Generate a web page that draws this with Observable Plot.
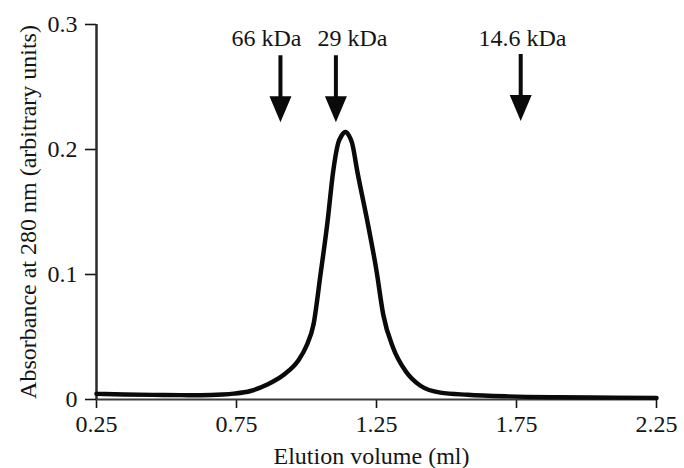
<!DOCTYPE html>
<html>
<head>
<meta charset="utf-8">
<script src="https://cdn.jsdelivr.net/npm/d3@7"></script>
<script src="https://cdn.jsdelivr.net/npm/@observablehq/plot@0.6"></script>
<style>
  html, body { margin: 0; padding: 0; background: #fff; }
  #chart { width: 684px; height: 468px; }
</style>
</head>
<body>
<div id="chart"></div>
<script>
// Elution profile (ml, absorbance at 280 nm)
const volume = [0.25, 0.35, 0.45, 0.55, 0.62, 0.70, 0.74, 0.80, 0.86, 0.92, 0.97, 1.00, 1.025, 1.05, 1.075, 1.095, 1.113, 1.125, 1.139, 1.152, 1.163, 1.181, 1.217, 1.250, 1.274, 1.31, 1.353, 1.407, 1.478, 1.575, 1.72, 1.90, 2.10, 2.25];
const absorbance = [0.0045, 0.0040, 0.0037, 0.0035, 0.0034, 0.0040, 0.0047, 0.0068, 0.012, 0.020, 0.031, 0.043, 0.060, 0.100, 0.142, 0.182, 0.205, 0.211, 0.214, 0.211, 0.205, 0.183, 0.143, 0.103, 0.068, 0.041, 0.023, 0.011, 0.0055, 0.0038, 0.0025, 0.0018, 0.0015, 0.0013];

// Molecular-weight markers
const markerLabels = ["66 kDa", "29 kDa", "14.6 kDa"];
const markerVolume = [0.907, 1.105, 1.765];
const markerLabelVolume = [0.857, 1.164, 1.771];
const markerTop = [0.2755, 0.2755, 0.2765];

const xTicks = [0.25, 0.75, 1.25, 1.75, 2.25];
const yTicks = [0, 0.1, 0.2, 0.3];

const profile = volume.map((v, i) => ({v, a: absorbance[i]}));
const markers = markerLabels.map((label, i) => ({label, v: markerVolume[i], lv: markerLabelVolume[i], top: markerTop[i]}));

const arrowShape = {
  draw(context, l) {
    const head = 26, hw = 11, sw = 2;
    context.moveTo(-sw, 0);
    context.lineTo(sw, 0);
    context.lineTo(sw, -(l - head));
    context.lineTo(hw, -(l - head));
    context.lineTo(0, -l);
    context.lineTo(-hw, -(l - head));
    context.lineTo(-sw, -(l - head));
    context.closePath();
  }
};

const font = "'Liberation Serif', 'Times New Roman', serif";
const fs = 24;

const chart = Plot.plot({
  width: 684,
  height: 468,
  marginLeft: 96,
  marginRight: 28,
  marginTop: 24,
  marginBottom: 69,
  style: {fontFamily: font, fontSize: fs + "px", color: "#141414", background: "#fff"},
  x: {domain: [0.25, 2.25]},
  y: {domain: [0, 0.3]},
  marks: [
    Plot.axisX({ticks: xTicks, tickSize: 9, tickPadding: 6, tickFormat: d => d.toFixed(2), label: null, fontSize: fs, strokeWidth: 1.6}),
    Plot.axisY({ticks: yTicks, tickSize: 11, tickPadding: 8, tickFormat: d => String(d), label: null, fontSize: fs, strokeWidth: 1.6}),
    Plot.ruleY([0], {stroke: "#3a3a3a", strokeWidth: 2}),
    Plot.ruleX([0.25], {y1: 0, y2: 0.3, stroke: "#2a2a2a", strokeWidth: 2.5}),
    Plot.line(profile, {x: "v", y: "a", curve: "monotone-x", stroke: "#0a0a0a", strokeWidth: 4.5, strokeLinejoin: "round"}),
    Plot.vector(markers, {x: "v", y: "top", length: 67, rotate: 180, anchor: "start", shape: arrowShape, fill: "#0a0a0a", stroke: "none"}),
    Plot.text(markers, {x: "lv", frameAnchor: "top", lineAnchor: "middle", dy: 13.6, text: "label", fontSize: fs, fill: "#141414"}),
    Plot.text(["Elution volume (ml)"], {frameAnchor: "bottom", lineAnchor: "middle", textAnchor: "middle", dx: -5, dy: 56.6, text: d => d, fontSize: fs, fill: "#141414"}),
    Plot.text(["Absorbance at 280 nm (arbitrary units)"], {frameAnchor: "left", lineAnchor: "middle", textAnchor: "middle", dx: -68.4, rotate: -90, text: d => d, fontSize: fs, fill: "#141414"})
  ]
});

document.getElementById("chart").appendChild(chart);
</script>
</body>
</html>
